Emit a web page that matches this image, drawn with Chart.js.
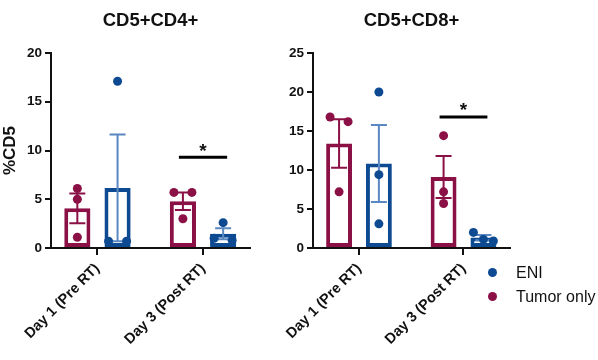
<!DOCTYPE html>
<html>
<head>
<meta charset="utf-8">
<script src="https://cdn.jsdelivr.net/npm/chart.js@4"></script>
<style>
  body { margin: 0; background: #fff; font-family: "Liberation Sans", Arial, sans-serif; }
  #wrap { position: relative; width: 598px; height: 360px; }
  .box { position: absolute; top: 0; width: 262px; height: 360px; }
  .leg { position: absolute; left: 488px; font-size: 16px; line-height: 18px; color: #111; white-space: nowrap; }
  .leg span { display: inline-block; width: 9px; height: 9px; border-radius: 50%; margin-right: 19px; vertical-align: 1px; }
</style>
</head>
<body>
<div id="wrap">
  <div class="box" style="left:0"><canvas id="cd4"></canvas></div>
  <div class="box" style="left:262px"><canvas id="cd8"></canvas></div>
  <div class="leg" style="top:264px"><span style="background:#0d4a92"></span>ENI</div>
  <div class="leg" style="top:288px"><span style="background:#8a1046"></span>Tumor only</div>
</div>
<script>
const categories = ['Day 1 (Pre RT)', 'Day 3 (Post RT)'];

// individual animals, per category
const cd4Tumor = [[6.1, 5.0, 1.1], [5.7, 5.7, 3.0]];
const cd4Eni   = [[17.1, 0.7, 0.7], [2.6, 1.0, 0.8]];
const cd8Tumor = [[16.8, 16.2, 7.2], [14.4, 7.2, 5.7]];
const cd8Eni   = [[20.0, 9.4, 3.1], [2.0, 1.1, 0.9]];

const cd4Ticks = [0, 5, 10, 15, 20];
const cd8Ticks = [0, 5, 10, 15, 20, 25];

// significance bar height (y value) over Day 3
const cd4Sig = 9.3;
const cd8Sig = 16.8;

const maroon = '#8a1046';
const blue = '#0d4a92';
const blueErr = '#5b88c2';
const font = '"Liberation Sans", Arial, sans-serif';

const mean = a => a.reduce((s, v) => s + v, 0) / a.length;
const sem = a => {
  let m = mean(a);
  let sd = Math.sqrt(a.reduce((s, v) => s + (v - m) * (v - m), 0) / (a.length - 1));
  return sd / Math.sqrt(a.length);
};

const overlay = {
  id: 'overlay',
  afterDatasetsDraw(chart, args, opts) {
    const ctx = chart.ctx;
    const y = chart.scales.y;
    const area = chart.chartArea;
    const groups = [opts.tumor, opts.eni];
    const errCol = [maroon, blueErr];
    const dotCol = [maroon, blue];
    ctx.save();
    groups.forEach((g, di) => {
      const meta = chart.getDatasetMeta(di);
      g.forEach((pts, ci) => {
        const bar = meta.data[ci];
        const m = mean(pts), e = sem(pts);
        const yt = y.getPixelForValue(m + e), yb = y.getPixelForValue(m - e);
        ctx.strokeStyle = errCol[di];
        ctx.lineWidth = 2;
        ctx.beginPath();
        ctx.moveTo(bar.x, yt); ctx.lineTo(bar.x, yb);
        ctx.moveTo(bar.x - 8, yt); ctx.lineTo(bar.x + 8, yt);
        ctx.moveTo(bar.x - 8, yb); ctx.lineTo(bar.x + 8, yb);
        ctx.stroke();
        // spread points that would overlap
        const r = 4.5;
        const sorted = pts.map(v => ({ v, py: y.getPixelForValue(v) })).sort((a, b) => a.py - b.py);
        let clusters = [];
        sorted.forEach(p => {
          let last = clusters[clusters.length - 1];
          if (last && p.py - last[last.length - 1].py < 2 * r) last.push(p);
          else clusters.push([p]);
        });
        ctx.fillStyle = dotCol[di];
        clusters.forEach(cl => {
          const step = cl.length == 2 ? 18 : 10;
          cl.forEach((p, k) => {
            const dx = (k - (cl.length - 1) / 2) * step;
            ctx.beginPath();
            ctx.arc(bar.x + dx, p.py, r, 0, Math.PI * 2);
            ctx.fill();
          });
        });
      });
    });
    // significance
    const a = chart.getDatasetMeta(0).data[1].x - 4;
    const b = chart.getDatasetMeta(1).data[1].x + 4;
    const sy = y.getPixelForValue(opts.sig);
    ctx.strokeStyle = '#000';
    ctx.lineWidth = 3;
    ctx.beginPath();
    ctx.moveTo(a, sy); ctx.lineTo(b, sy);
    ctx.stroke();
    ctx.fillStyle = '#111';
    ctx.font = 'bold 19px ' + font;
    ctx.textAlign = 'center';
    ctx.textBaseline = 'middle';
    ctx.fillText('*', (a + b) / 2, sy - 6);
    // title centred over the plot area
    ctx.font = 'bold 18.5px ' + font;
    ctx.fillText(opts.title, (area.left + area.right) / 2, 21);
    ctx.restore();
  }
};

function makeChart(id, title, tumor, eni, ticks, sig, yTitle, padRight) {
  const top = ticks[ticks.length - 1];
  return new Chart(document.getElementById(id), {
    type: 'bar',
    data: {
      datasets: [
        { label: 'Tumor only', data: tumor.map((p, i) => ({ x: i, y: mean(p) })), borderColor: maroon, backgroundColor: '#fff', borderWidth: 4 },
        { label: 'ENI', data: eni.map((p, i) => ({ x: i, y: mean(p) })), borderColor: blue, backgroundColor: '#fff', borderWidth: 4 }
      ]
    },
    plugins: [overlay],
    options: {
      responsive: true,
      maintainAspectRatio: false,
      animation: false,
      layout: { padding: { top: 53, right: padRight, left: 0, bottom: 0 } },
      datasets: { bar: { categoryPercentage: 0.762, barPercentage: 0.65, borderSkipped: false } },
      plugins: {
        legend: { display: false },
        tooltip: { enabled: false },
        title: { display: false },
        overlay: { tumor, eni, sig, title }
      },
      scales: {
        x: {
          type: 'linear',
          offset: false,
          min: -0.44, max: 1.445,
          afterBuildTicks: s => { s.ticks = categories.map((c, i) => ({ value: i })); },
          grid: { display: true, drawOnChartArea: false, offset: false, color: '#111', lineWidth: 2, tickLength: 7 },
          border: { color: '#111', width: 2 },
          ticks: {
            color: '#111', maxRotation: 45, minRotation: 45, padding: 5, autoSkip: false,
            callback: v => categories[v],
            font: { family: font, size: 14.5, weight: 'bold' }
          },
          afterFit: s => { s.height = 112; }
        },
        y: {
          min: 0, max: top,
          afterBuildTicks: s => { s.ticks = ticks.map(v => ({ value: v })); },
          grid: { display: true, drawOnChartArea: false, color: '#111', lineWidth: 2, tickLength: 6 },
          border: { color: '#111', width: 2 },
          ticks: { color: '#111', padding: 3, font: { family: font, size: 13.5, weight: 'bold' } },
          title: { display: !!yTitle, text: yTitle, color: '#111', padding: 0, font: { family: font, size: 17, weight: 'bold' } },
          afterFit: s => { s.width = 51; }
        }
      }
    }
  });
}

makeChart('cd4', 'CD5+CD4+', cd4Tumor, cd4Eni, cd4Ticks, cd4Sig, '%CD5', 12);
makeChart('cd8', 'CD5+CD8+', cd8Tumor, cd8Eni, cd8Ticks, cd8Sig, '', 14);
</script>
</body>
</html>
